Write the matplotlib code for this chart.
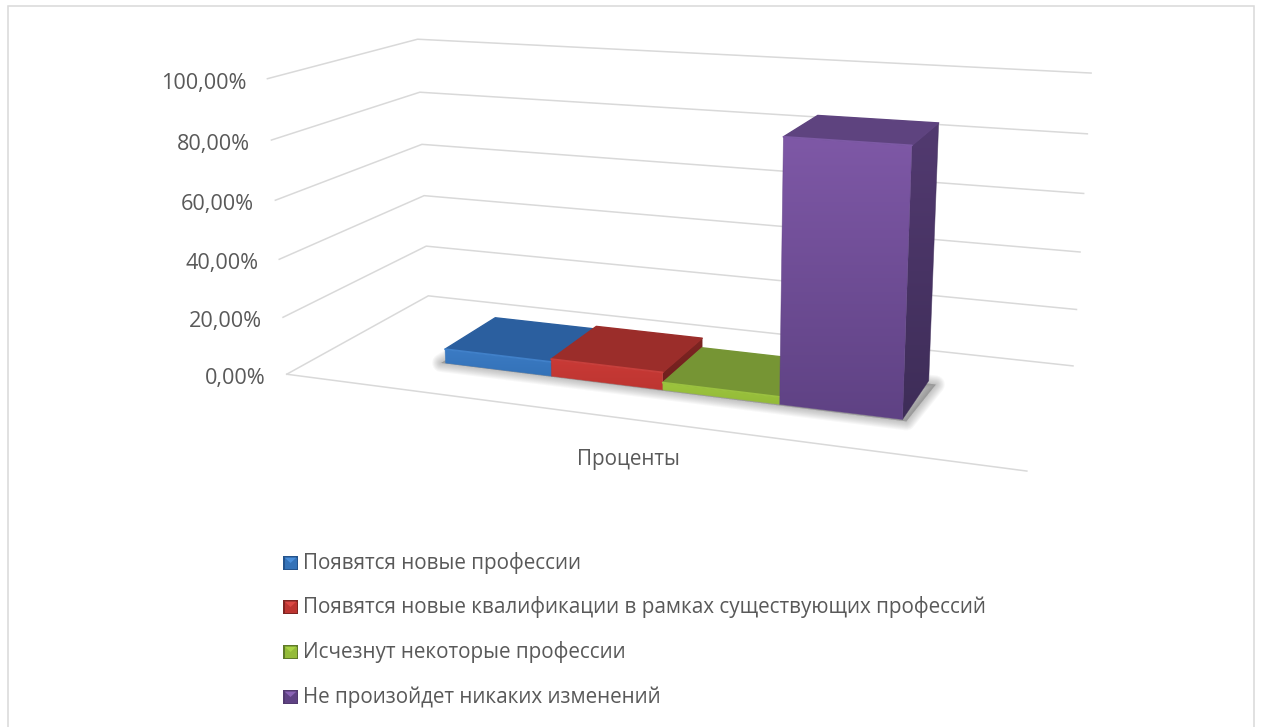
import numpy as np
import matplotlib
matplotlib.use("Agg")
import matplotlib.pyplot as plt
from matplotlib.colors import LinearSegmentedColormap
from matplotlib.patches import Polygon, Rectangle

# ==============================================================================
# data
series_names = [
    "Появятся новые профессии",
    "Появятся новые квалификации в рамках существующих профессий",
    "Исчезнут некоторые профессии",
    "Не произойдет никаких изменений",
]
series_values = [5.0, 6.0, 2.5, 86.5]
y_ticks = [0, 20, 40, 60, 80, 100]
y_tick_labels = ["0,00%", "20,00%", "40,00%", "60,00%", "80,00%", "100,00%"]
category_label = "Проценты"

# (top face, front top, front bottom, side top, side bottom, bevel light)
bar_colors = [
    ("#2B5F9F", "#3B7BC4", "#3472B8", "#24538C", "#1F4A7E", "#4A8FDB"),
    ("#9B2D2A", "#C93A36", "#BD3531", "#7E2522", "#6E1F1D", "#DB4844"),
    ("#769534", "#9CC43D", "#94BB39", "#5F7A2A", "#556E25", "#AAD445"),
    ("#5E437F", "#7E58A6", "#5F4284", "#523A70", "#3E2D58", "#8A63B5"),
]
grid_color = "#D9D9D9"
text_color = "#595959"
font_name = "Open Sans"
font_size = 14.9
tick_font_size = 15.6

# ==============================================================================
# camera: fit a 3D -> picture projection (x: 0-1 across, y: percent, z: 0 front - 1 back)
cal_3d = np.array([
    (0, 0, 0), (0, 100, 0), (0, 0, 1), (0, 100, 1),
    (1, 0, 1), (1, 100, 1), (1, 0, 0),
], dtype=float)
cal_2d = np.array([
    (287, 374), (267, 79), (428, 296), (418, 39),
    (1073, 366), (1091, 73), (1027, 471),
], dtype=float)


def fit_camera(p3, p2):
    rows = []
    for (x, y, z), (u, v) in zip(p3, p2):
        rows.append([x, y, z, 1, 0, 0, 0, 0, -u * x, -u * y, -u * z, -u])
        rows.append([0, 0, 0, 0, x, y, z, 1, -v * x, -v * y, -v * z, -v])
    _, _, vt = np.linalg.svd(np.array(rows))
    return vt[-1].reshape(3, 4)


cam = fit_camera(cal_3d, cal_2d)


def proj(x, y, z):
    u = cam @ np.array([x, y, z, 1.0])
    return u[0] / u[2], u[1] / u[2]


# ==============================================================================
def gradient_poly(ax, pts, c_top, c_bot, zorder):
    cmap = LinearSegmentedColormap.from_list("face", [c_top, c_bot])
    pts = np.array(pts)
    xmin, ymin = pts.min(axis=0)
    xmax, ymax = pts.max(axis=0)
    im = ax.imshow(np.linspace(0, 1, 64).reshape(-1, 1), cmap=cmap, aspect="auto",
                   extent=(xmin, xmax, ymax, ymin), zorder=zorder, interpolation="bilinear")
    clip = Polygon(pts, closed=True, transform=ax.transData, fc="none", ec="none")
    ax.add_patch(clip)
    im.set_clip_path(clip)
    ax.add_patch(Polygon(pts, closed=True, fc="none", ec=c_bot, lw=0.5, alpha=0.6, zorder=zorder))


fig = plt.figure(figsize=(12.61, 7.27), dpi=100)
ax = fig.add_axes([0, 0, 1, 1])
fam = [font_name, "DejaVu Sans"]

# chart border
ax.add_patch(Rectangle((7.5, 5.5), 1246, 740, fc="white", ec="#D9D9D9", lw=1.1, zorder=0))

# gridlines on the side and back walls
for tick, label in zip(y_ticks, y_tick_labels):
    xs, ys = zip(proj(0, tick, 0), proj(0, tick, 1), proj(1, tick, 1))
    ax.plot(xs, ys, color=grid_color, lw=1.1, zorder=1, solid_joinstyle="miter")
    ax.text(xs[0] - 21, ys[0] + 4.5, label, ha="right", va="center", color=text_color,
            fontsize=tick_font_size, family=fam)
xs, ys = zip(proj(0, 0, 0), proj(1, 0, 0))
ax.plot(xs, ys, color=grid_color, lw=1.1, zorder=1)

ax.text(628, 460, category_label, ha="center", va="center", color=text_color, fontsize=font_size,
        family=fam)

# bars
n = len(series_values)
gap_width = 2.2
bar_w = 1 / (n + gap_width)
x0 = gap_width / 2 * bar_w + 0.004
z0, z1 = 0.29, 0.68

# soft shadow under the whole row of bars
left, right = x0, x0 + n * bar_w
foot = [proj(left - 0.006, 0, z0 - 0.004), proj(right + 0.006, 0, z0 - 0.012),
        proj(right + 0.012, 0, z1 - 0.03), proj(left, 0, z1)]
for lw in np.arange(13, 0, -1.5):
    ax.add_patch(Polygon(foot, closed=True, fc="#505050", ec="#505050", lw=lw, alpha=0.045,
                         joinstyle="round", zorder=2))

for i, (val, cols) in enumerate(zip(series_values, bar_colors)):
    top_c, f_top, f_bot, s_top, s_bot, light = cols
    a, b = x0 + i * bar_w, x0 + (i + 1) * bar_w
    z_order = 3 + i

    top = [proj(a, val, z0), proj(b, val, z0), proj(b, val, z1), proj(a, val, z1)]
    front = [proj(a, val, z0), proj(b, val, z0), proj(b, 0, z0), proj(a, 0, z0)]
    side = [proj(b, val, z0), proj(b, val, z1), proj(b, 0, z1), proj(b, 0, z0)]

    gradient_poly(ax, side, s_top, s_bot, z_order)
    gradient_poly(ax, front, f_top, f_bot, z_order)
    ax.add_patch(Polygon(top, closed=True, fc=top_c, ec=top_c, lw=1.0, joinstyle="round", zorder=z_order))
    # bevel highlight along the top front edge
    ax.plot(*zip(front[0], front[1]), color=light, lw=1.3, alpha=0.7, zorder=z_order,
            solid_capstyle="round")

# legend
legend_ys = [563, 607, 652, 697]
for name, ly, cols in zip(series_names, legend_ys, bar_colors):
    top_c, f_top, f_bot, s_top, s_bot, light = cols
    l, r, t, btm = 283, 298, ly - 7, ly + 7
    ax.add_patch(Rectangle((l, t), r - l, btm - t, fc=s_top, ec="none", zorder=3))
    ax.add_patch(Rectangle((l + 1.5, t + 1.5), r - l - 3, btm - t - 3, fc=f_bot, ec="none", zorder=4))
    ax.add_patch(Polygon([(l + 1.5, t + 1.5), (r - 1.5, t + 1.5), ((l + r) / 2, ly)], fc=light, ec="none", zorder=5))
    ax.text(303, ly, name, ha="left", va="center", color=text_color, fontsize=font_size, family=fam)

ax.set_xlim(0, 1261)
ax.set_ylim(727, 0)
ax.axis("off")
fig.savefig("out.png", dpi=100)
